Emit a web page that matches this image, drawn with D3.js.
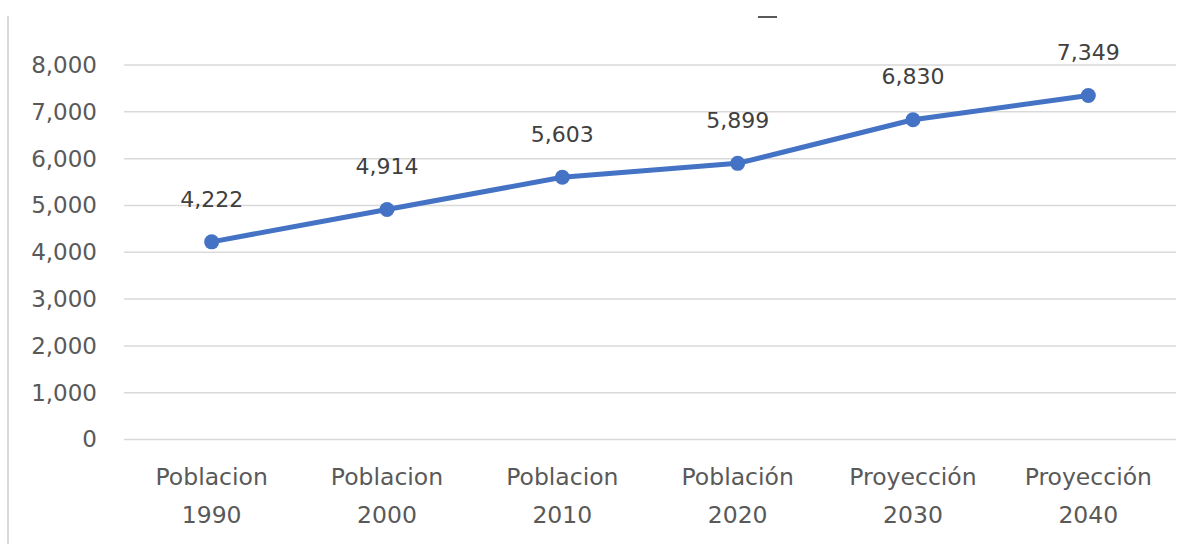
<!DOCTYPE html>
<html>
<head>
<meta charset="utf-8">
<script src="https://cdn.jsdelivr.net/npm/d3@7"></script>
<style>
  body { margin: 0; background: #fff; }
  text { font-family: "DejaVu Sans", sans-serif; }
</style>
</head>
<body>
<div id="chart"></div>
<script>
var categories = [["Poblacion", "1990"], ["Poblacion", "2000"], ["Poblacion", "2010"],
                  ["Población", "2020"], ["Proyección", "2030"], ["Proyección", "2040"]];
var values = [4222, 4914, 5603, 5899, 6830, 7349];
var yTicks = [0, 1000, 2000, 3000, 4000, 5000, 6000, 7000, 8000];

var svgWidth = 1195, svgHeight = 544;
var margin = { top: 65, right: 19, bottom: 104.5, left: 124 };
var width = svgWidth - margin.left - margin.right;
var height = svgHeight - margin.top - margin.bottom;

var svg = d3.select("#chart").append("svg")
    .attr("width", svgWidth)
    .attr("height", svgHeight);

// chart frame left edge and clipped title remnant
svg.append("line")
    .attr("x1", 8).attr("x2", 8).attr("y1", 16).attr("y2", svgHeight)
    .attr("stroke", "#d9d9d9").attr("stroke-width", 2);
svg.append("line")
    .attr("x1", 758).attr("x2", 777).attr("y1", 17).attr("y2", 17)
    .attr("stroke", "#595959").attr("stroke-width", 2);

var chartGroup = svg.append("g")
    .attr("transform", `translate(${margin.left}, ${margin.top})`);

var x = d3.scaleBand()
    .domain(categories.map(d => d.join(" ")))
    .range([0, width])
    .padding(0);

var y = d3.scaleLinear()
    .domain([0, 8000])
    .range([height, 0]);

// gridlines
chartGroup.append("g")
    .selectAll("line")
    .data(yTicks)
    .enter()
    .append("line")
    .attr("x1", 0).attr("x2", width)
    .attr("y1", d => y(d)).attr("y2", d => y(d))
    .attr("stroke", "#d9d9d9").attr("stroke-width", 1.5);

// y axis labels
var leftAxis = d3.axisLeft(y).tickValues(yTicks).tickFormat(d3.format(",")).tickSize(0).tickPadding(27);
var yAxis = chartGroup.append("g").call(leftAxis);
yAxis.select(".domain").remove();
yAxis.selectAll("text")
    .attr("fill", "#595959")
    .attr("font-size", "23px")
    .attr("font-family", "DejaVu Sans, sans-serif");

// x axis labels (two lines)
var xLabels = chartGroup.append("g")
    .selectAll("text")
    .data(categories)
    .enter()
    .append("text")
    .attr("x", d => x(d.join(" ")) + x.bandwidth() / 2)
    .attr("y", height + 45)
    .attr("text-anchor", "middle")
    .attr("fill", "#595959")
    .attr("font-size", "23.5px");
xLabels.append("tspan")
    .attr("x", d => x(d.join(" ")) + x.bandwidth() / 2)
    .text(d => d[0]);
xLabels.append("tspan")
    .attr("x", d => x(d.join(" ")) + x.bandwidth() / 2)
    .attr("dy", 38)
    .text(d => d[1]);

// line
var line = d3.line()
    .x((d, i) => x(categories[i].join(" ")) + x.bandwidth() / 2)
    .y(d => y(d));

chartGroup.append("path")
    .datum(values)
    .attr("d", line)
    .attr("fill", "none")
    .attr("stroke", "#4472c4")
    .attr("stroke-width", 5)
    .attr("stroke-linejoin", "round");

chartGroup.append("g")
    .selectAll("circle")
    .data(values)
    .enter()
    .append("circle")
    .attr("cx", (d, i) => x(categories[i].join(" ")) + x.bandwidth() / 2)
    .attr("cy", d => y(d))
    .attr("r", 7.5)
    .attr("fill", "#4472c4");

// data labels
chartGroup.append("g")
    .selectAll("text")
    .data(values)
    .enter()
    .append("text")
    .attr("x", (d, i) => x(categories[i].join(" ")) + x.bandwidth() / 2)
    .attr("y", d => y(d) - 43)
    .attr("dy", "0.35em")
    .attr("text-anchor", "middle")
    .attr("fill", "#404040")
    .attr("font-size", "22px")
    .text(d => d3.format(",")(d));
</script>
</body>
</html>
